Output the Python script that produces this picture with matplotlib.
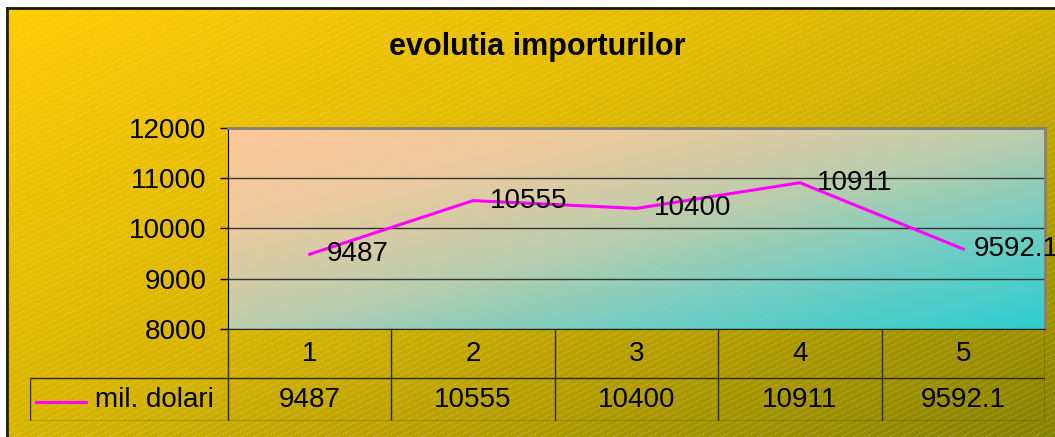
import numpy as np
import matplotlib
matplotlib.use("Agg")
import matplotlib.pyplot as plt
from matplotlib.collections import LineCollection

plt.rcParams['font.family'] = ['Liberation Sans', 'DejaVu Sans']

# date
categorii = ['1', '2', '3', '4', '5']
valori = [9487, 10555, 10400, 10911, 9592.1]
etichete = ['9487', '10555', '10400', '10911', '9592.1']
serie = 'mil. dolari'
titlu = 'evolutia importurilor'

W, H = 1055, 437
fig = plt.figure(figsize=(W / 100, H / 100), dpi=100)
fig.patch.set_facecolor('white')

def gradient(stops, t):
    stops = np.array(stops, dtype=float) / 255
    pos = np.linspace(0, 1, len(stops))
    return np.stack([np.interp(t, pos, stops[:, k]) for k in range(3)], axis=-1)

# fundal auriu cu gradient si hasura
bg = fig.add_axes([0, 0, 1, 1])
gx, gy = np.meshgrid(np.linspace(0, 1, 300), np.linspace(0, 1, 150))
img = gradient([(255, 204, 0), (215, 180, 0), (135, 130, 0)], (gx + gy) / 2)
bg.imshow(img, extent=(7, W, H, 8), aspect='auto', zorder=0, interpolation='bilinear')
seg = []
for c in np.arange(8, H + W * 0.5, 6):
    seg.append([(7, c), (W, c - 0.5 * (W - 7))])
bg.add_collection(LineCollection(seg, colors=(1, 1, 1, 0.3), linewidths=0.6,
                                 linestyles=(0, (2, 1.5)), zorder=1))
bg.plot([7, 7], [H, 8], color='#1a1a00', lw=2, zorder=3, solid_capstyle='projecting')
bg.plot([7, W], [8, 8], color='#1a1a00', lw=2, zorder=3, solid_capstyle='projecting')
bg.set_xlim(0, W)
bg.set_ylim(H, 0)
bg.axis('off')

fig.text(537 / W, 1 - 47 / H, titlu, ha='center', va='center', fontsize=22, fontweight='bold')

# zona graficului
ax = fig.add_axes([228 / W, (H - 329) / H, 817 / W, 201 / H])
px, py = np.meshgrid(np.linspace(0, 1, 200), np.linspace(0, 1, 100))
pimg = gradient([(252, 200, 150), (235, 202, 158), (188, 205, 172), (110, 205, 195), (45, 205, 208)],
                (px + py) / 2)
ax.imshow(pimg, extent=(0, 1, 0, 1), transform=ax.transAxes, aspect='auto', zorder=0)
pseg = []
for c in np.arange(0, 1.6, 0.03):
    pseg.append([(0, c), (1, c - 2.0)])
ax.add_collection(LineCollection(pseg, colors=(1, 1, 1, 0.12), linewidths=0.5,
                                 linestyles=(0, (2, 1.5)), transform=ax.transAxes, zorder=0.5))
ax.set_xlim(0.5, 5.5)
ax.set_ylim(8000, 12000)

ax.set_yticks([8000, 9000, 10000, 11000, 12000])
ax.yaxis.grid(True, color='#333333', lw=1)
ax.set_xticks([])
ax.tick_params(axis='y', length=6, width=1, pad=9.5, labelsize=20, colors='black')
ax.spines['left'].set_color('black')
ax.spines['bottom'].set_color('#222222')
ax.spines['top'].set_color('#808080')
ax.spines['right'].set_color('#808080')
ax.spines['top'].set_linewidth(2)
ax.spines['right'].set_linewidth(2)

x = np.arange(1, len(valori) + 1)
ax.plot(x, valori, color='#FF00FF', lw=2.2, zorder=3)
for i, (xi, v, e) in enumerate(zip(x, valori, etichete)):
    dx = 10 if i == len(valori) - 1 else 17  # ultima eticheta impinsa spre stanga, ca in Excel
    ax.annotate(e, (xi, v), xytext=(dx, 0), textcoords='offset pixels',
                ha='left', va='center', fontsize=20, annotation_clip=False, zorder=4)

# tabel de date (axa proprie, aceleasi categorii pe x)
cw = 817 / 5
xl = 0.5 - 198 / cw
tax = fig.add_axes([30 / W, (H - 421) / H, 1015 / W, 92 / H])
tax.set_xlim(xl, 5.5)
tax.set_ylim(92, 0)
tax.axis('off')
edge = '#2a2800'
margini = np.arange(0.5, len(categorii) + 1)
tax.vlines(margini, 0, 92, color=edge, lw=1)
tax.vlines([xl], 49, 92, color=edge, lw=1)
tax.hlines([49, 92], xl, 5.5, color=edge, lw=1)
for xi, cat, e in zip(x, categorii, etichete):
    tax.text(xi, 25, cat, ha='center', va='center', fontsize=20)
    tax.text(xi, 71, e, ha='center', va='center', fontsize=20)
tax.text(0.5 - 14 / cw, 71, serie, ha='right', va='center', fontsize=20)
tax.plot([xl + 6 / cw, xl + 56 / cw], [73, 73], color='#FF00FF', lw=2.2)

fig.savefig('out.png', dpi=100)
